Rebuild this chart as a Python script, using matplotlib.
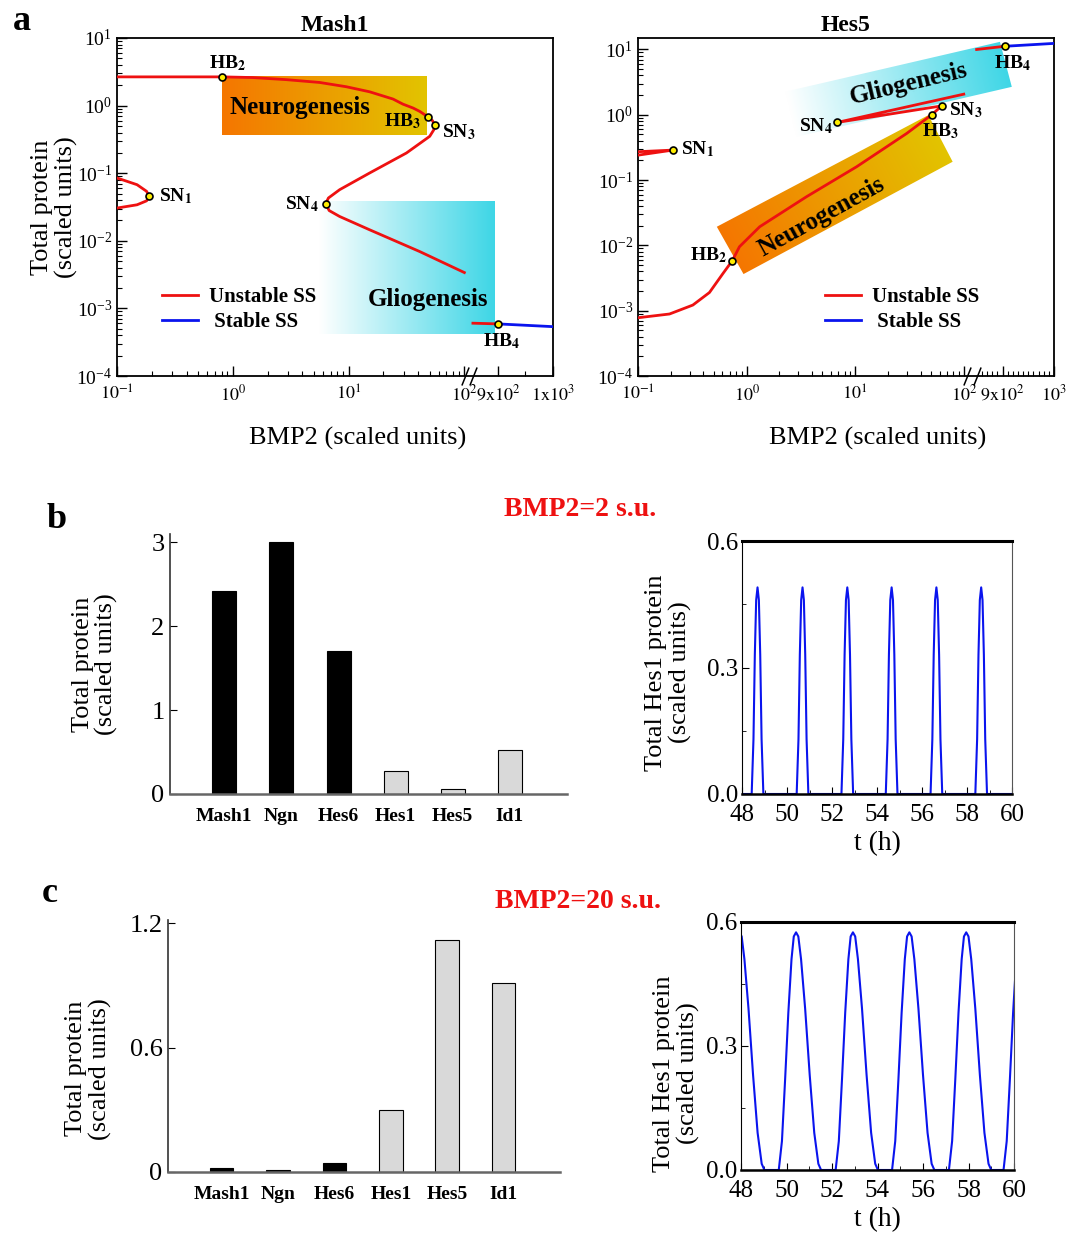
import numpy as np
import matplotlib
matplotlib.use("Agg")
import matplotlib.pyplot as plt
from matplotlib.patches import Polygon
from matplotlib.lines import Line2D
from matplotlib.path import Path
from matplotlib.colors import to_rgb
from matplotlib.ticker import FixedLocator, LogLocator, LogFormatterMathtext, NullFormatter

plt.rcParams['font.family'] = ['Liberation Serif', 'DejaVu Serif']
plt.rcParams['mathtext.fontset'] = 'stix'

# ---- panel a: bifurcation branches (BMP2, total protein) ----
mash1_x = [0.1, 0.3, 0.81, 1.49, 2.9, 5.62, 9.57, 15.2, 24.2, 29.5, 36.1, 41.2, 48.5, 53.0,
           55.5, 54.5, 50.2, 31.6, 15.2, 8.37, 6.7, 6.34, 6.8, 8.37, 15.2, 41.1, 100]
mash1_y = [2.66, 2.66, 2.66, 2.6, 2.42, 2.2, 1.9, 1.6, 1.25, 1.05, 0.92, 0.82, 0.68, 0.6,
           0.51, 0.44, 0.351, 0.199, 0.1007, 0.057, 0.043, 0.0353, 0.028, 0.0229, 0.01455,
           0.00694, 0.00339]
mash1_sn1_x = [0.1, 0.149, 0.18, 0.19, 0.18, 0.149, 0.1]
mash1_sn1_y = [0.085, 0.0676, 0.054, 0.0453, 0.039, 0.0341, 0.0305]
mash1_red_hi_x = [855, 900]
mash1_red_hi_y = [6.04e-4, 5.9e-4]
mash1_stable_x = [900, 1000]
mash1_stable_y = [5.9e-4, 5.37e-4]
mash1_pt_names = ['HB2', 'HB3', 'SN3', 'SN1', 'SN4', 'HB4']
mash1_pt_x = [0.81, 48.5, 55.5, 0.19, 6.34, 900]
mash1_pt_y = [2.66, 0.68, 0.51, 0.0453, 0.0353, 5.9e-4]
mash1_neuro_box = [(0.81, 0.372), (0.81, 2.78), (47.7, 2.78), (47.7, 0.372)]
mash1_glio_box = [(5.6, 4.14e-4), (5.6, 0.039), (895, 0.039), (895, 4.14e-4)]

hes5_x = [0.1, 0.195, 0.32, 0.455, 0.605, 0.738, 0.86, 1.32, 3.56, 10.3, 29.8, 51, 62.7, 6.82, 100]
hes5_y = [7.8e-4, 8.9e-4, 1.22e-3, 1.9e-3, 3.7e-3, 5.82e-3, 9.55e-3, 0.0193, 0.0556, 0.16,
          0.518, 1.01, 1.37, 0.764, 2.07]
hes5_sn1_x = [0.1, 0.209, 0.1]
hes5_sn1_y = [0.272, 0.288, 0.241]
hes5_red_hi_x = [840, 904]
hes5_red_hi_y = [10.0, 11.2]
hes5_stable_x = [904, 1000]
hes5_stable_y = [11.2, 12.4]
hes5_pt_names = ['SN1', 'HB2', 'SN4', 'HB3', 'SN3', 'HB4']
hes5_pt_x = [0.209, 0.738, 6.82, 51, 62.7, 904]
hes5_pt_y = [0.288, 5.82e-3, 0.764, 1.01, 1.37, 11.2]
hes5_neuro_box = [(0.937, 0.00364), (0.532, 0.0193), (47.2, 0.989), (79, 0.191)]
hes5_glio_box = [(2.24, 2.25), (2.87, 0.46), (918, 2.68), (895, 13.1)]

x_major = [0.1, 1, 10, 100, 900, 1000]
mash1_xlabels = [r'$10^{-1}$', r'$10^{0}$', r'$10^{1}$', r'$10^{2}$',
                 r'$9\mathrm{x}10^{2}$', r'$1\mathrm{x}10^{3}$']
hes5_xlabels = [r'$10^{-1}$', r'$10^{0}$', r'$10^{1}$', r'$10^{2}$',
                r'$9\mathrm{x}10^{2}$', r'$10^{3}$']

# ---- panels b, c: bar charts ----
genes = ['Mash1', 'Ngn', 'Hes6', 'Hes1', 'Hes5', 'Id1']
bmp2_low = [2.42, 3.0, 1.70, 0.27, 0.056, 0.53]
bmp2_high = [0.019, 0.008, 0.043, 0.299, 1.118, 0.911]
bar_colors = ['black', 'black', 'black', '#d9d9d9', '#d9d9d9', '#d9d9d9']

# ---- panels b, c: Hes1 time courses (pulse shapes) ----
b_peaks = [48.69, 50.69, 52.68, 54.65, 56.64, 58.63]
b_pulse_dt = [-0.26, -0.18, -0.12, -0.06, 0.0, 0.06, 0.12, 0.18, 0.26]
b_pulse_y = [0.0, 0.13, 0.33, 0.46, 0.49, 0.46, 0.33, 0.13, 0.0]
c_peaks = [47.93, 50.42, 52.92, 55.40, 57.90, 60.30]
c_cycle_dt = [-0.76, -0.62, -0.48, -0.34, -0.2, -0.1, 0.0, 0.1, 0.22, 0.4, 0.6, 0.8, 0.98, 1.1]
c_cycle_y = [0.0, 0.07, 0.22, 0.38, 0.51, 0.565, 0.575, 0.565, 0.51, 0.39, 0.23, 0.09, 0.015, 0.0]

RED = '#ee1111'
BLUE = '#0a14ee'
ORANGE = '#f57600'
GOLD = '#e2c400'
CYAN = '#3ed6e6'

W, H = 1077, 1234
fig = plt.figure(figsize=(W / 100, H / 100), dpi=100)


def axes_px(l, t, r, b):
    return fig.add_axes([l / W, 1 - b / H, (r - l) / W, (b - t) / H])


def bmp_scale(b, s):
    # log axis up to 100, squeezed gap 100..850, linear piece from 850 on
    def fwd(x):
        x = np.asarray(x, dtype=float)
        lg = np.log10(np.clip(x, 1e-12, None))
        return np.where(x <= 100, lg, np.where(x <= 850, 2 + (x - 100) / 750 * (b - 2),
                                               b + (x - 850) * s))

    def inv(u):
        u = np.asarray(u, dtype=float)
        lo = 10 ** np.clip(u, -12, 2)
        return np.where(u <= 2, lo, np.where(u <= b, 100 + (u - 2) / (b - 2) * 750,
                                             850 + (u - b) / s))
    return fwd, inv


def gradient_fill(ax, verts, c0, c1, n=300):
    # verts: first two corners = start edge, last two = end edge
    disp = ax.transData.transform(np.array(verts, dtype=float))
    p0 = (disp[0] + disp[1]) / 2
    p1 = (disp[2] + disp[3]) / 2
    d = p1 - p0
    x0, y0 = disp.min(axis=0) - 2
    x1, y1 = disp.max(axis=0) + 2
    X, Y = np.meshgrid(np.linspace(x0, x1, n), np.linspace(y0, y1, n))
    t = np.clip(((X - p0[0]) * d[0] + (Y - p0[1]) * d[1]) / (d @ d), 0, 1)[..., None]
    img = np.array(to_rgb(c0)) * (1 - t) + np.array(to_rgb(c1)) * t
    inv = ax.transAxes.inverted()
    (a0, b0), (a1, b1) = inv.transform([(x0, y0), (x1, y1)])
    im = ax.imshow(img, extent=[a0, a1, b0, b1], origin='lower', transform=ax.transAxes,
                   aspect='auto', interpolation='bilinear', zorder=0)
    poly = Polygon(verts, closed=True, facecolor='none', edgecolor='none', transform=ax.transData)
    ax.add_patch(poly)
    im.set_clip_path(poly)


def sub_label(name):
    return name[:-1] + r'$_{\mathbf{' + name[-1] + '}}$'


def bif_axes(ax, b, s, ylim, xlabels, minor_hi, title):
    fwd, inv = bmp_scale(b, s)
    ax.set_xscale('function', functions=(fwd, inv))
    ax.set_yscale('log')
    ax.set_xlim(0.1, 1000)
    ax.set_ylim(*ylim)
    ax.set_autoscale_on(False)
    minors = [m * 10.0 ** e for e in (-1, 0, 1) for m in range(2, 10)] + minor_hi
    ax.xaxis.set_major_locator(FixedLocator(x_major))
    ax.xaxis.set_minor_locator(FixedLocator(minors))
    ax.set_xticklabels(xlabels)
    ax.xaxis.set_minor_formatter(NullFormatter())
    ax.yaxis.set_major_locator(LogLocator(base=10, numticks=10))
    ax.yaxis.set_minor_locator(LogLocator(base=10, subs=np.arange(2, 10), numticks=20))
    ax.yaxis.set_major_formatter(LogFormatterMathtext())
    ax.yaxis.set_minor_formatter(NullFormatter())
    ax.tick_params(which='both', direction='in', labelsize=14, top=False, right=False)
    ax.tick_params(which='major', length=7, width=1)
    ax.tick_params(axis='x', which='major', pad=6, labelsize=13)
    ax.tick_params(which='minor', length=3.5, width=0.8)
    for sp in ax.spines.values():
        sp.set_linewidth(1.3)
    ax.set_title(title, fontsize=17, fontweight='bold', pad=5)
    ax.set_xlabel('BMP2 (scaled units)', fontsize=19)


def break_marks(ax, xs):
    mk = Path([(-0.4, -1), (0.4, 1)], [Path.MOVETO, Path.LINETO])
    ax.plot(xs, [0, 0], transform=ax.get_xaxis_transform(), ls='none', marker=mk,
            ms=13, mew=1.1, color='black', clip_on=False, zorder=6)


def points(ax, names, xs, ys, offsets):
    ax.plot(xs, ys, 'o', ms=5, mfc='#ffee00', mec='black', mew=1.2, zorder=5)
    for n, x, y in zip(names, xs, ys):
        dx, dy, ha, va = offsets[n]
        ax.annotate(sub_label(n), (x, y), xytext=(dx, dy), textcoords='offset points',
                    ha=ha, va=va, fontsize=14, fontweight='bold', zorder=6)


def bif_legend(ax, anchor):
    hs = [Line2D([], [], color=RED, lw=2), Line2D([], [], color=BLUE, lw=2)]
    ax.legend(hs, ['Unstable SS', ' Stable SS'], loc='lower left', bbox_to_anchor=anchor,
              frameon=False, prop=dict(weight='bold', size=15), handlelength=1.7,
              handletextpad=0.55, labelspacing=0.25, borderaxespad=0)


# ---- Mash1 ----
ax = axes_px(117, 38, 553, 376)
bif_axes(ax, 2.05, 0.00477, (1e-4, 10), mash1_xlabels, [950], 'Mash1')
gradient_fill(ax, mash1_neuro_box, ORANGE, GOLD)
gradient_fill(ax, mash1_glio_box, 'white', CYAN)
ax.plot(mash1_x, mash1_y, color=RED, lw=2, zorder=3)
ax.plot(mash1_sn1_x, mash1_sn1_y, color=RED, lw=2, zorder=3)
ax.plot(mash1_red_hi_x, mash1_red_hi_y, color=RED, lw=2, zorder=3)
ax.plot(mash1_stable_x, mash1_stable_y, color=BLUE, lw=2, zorder=3)
points(ax, mash1_pt_names, mash1_pt_x, mash1_pt_y,
       {'HB2': (4, 3, 'center', 'bottom'), 'HB3': (-5, -3, 'right', 'center'),
        'SN3': (5, -5, 'left', 'center'), 'SN1': (7, 0, 'left', 'center'),
        'SN4': (-5, 0, 'right', 'center'), 'HB4': (3, -5, 'center', 'top')})
ax.text(3.78, 0.924, 'Neurogenesis', ha='center', va='center', fontsize=18, fontweight='bold', zorder=4)
ax.text(48.9, 1.34e-3, 'Gliogenesis', ha='center', va='center', fontsize=18, fontweight='bold', zorder=4)
ax.set_ylabel('Total protein\n(scaled units)', fontsize=19, linespacing=1.1)
ax.yaxis.set_label_coords(-0.09, 0.5)
ax.xaxis.set_label_coords(0.553, -0.15)
bif_legend(ax, (0.085, 0.105))
break_marks(ax, [200, 855])

# ---- Hes5 ----
ax = axes_px(638, 38, 1054, 376)
bif_axes(ax, 2.12, 0.00474, (1e-4, 15), hes5_xlabels, list(range(860, 1000, 10)), 'Hes5')
gradient_fill(ax, hes5_neuro_box, ORANGE, GOLD)
gradient_fill(ax, hes5_glio_box, 'white', CYAN)
ax.plot(hes5_x, hes5_y, color=RED, lw=2, zorder=3)
ax.plot(hes5_sn1_x, hes5_sn1_y, color=RED, lw=2, zorder=3)
ax.plot(hes5_red_hi_x, hes5_red_hi_y, color=RED, lw=2, zorder=3)
ax.plot(hes5_stable_x, hes5_stable_y, color=BLUE, lw=2, zorder=3)
points(ax, hes5_pt_names, hes5_pt_x, hes5_pt_y,
       {'SN1': (6, 1, 'left', 'center'), 'HB2': (-4, 4, 'right', 'center'),
        'SN4': (-3, -3, 'right', 'center'), 'HB3': (6, -5, 'center', 'top'),
        'SN3': (5, -3, 'left', 'center'), 'HB4': (6, -5, 'center', 'top')})
ax.text(4.89, 0.0275, 'Neurogenesis', ha='center', va='center', rotation=29,
        fontsize=18, fontweight='bold', zorder=4)
ax.text(30.8, 3.02, 'Gliogenesis', ha='center', va='center', rotation=13.5,
        fontsize=18, fontweight='bold', zorder=4)
ax.xaxis.set_label_coords(0.576, -0.15)
bif_legend(ax, (0.43, 0.105))
break_marks(ax, [300, 840])


# ---- bar charts ----
def bar_axes(ax, vals, ylim, yticks, yticklabels, ylab_xy):
    pos = np.arange(1, len(genes) + 1)
    ax.bar(pos, vals, width=0.42, color=bar_colors, edgecolor='black', linewidth=0.8)
    ax.set_xlim(0.05, 7.0)
    ax.set_ylim(*ylim)
    ax.set_xticks(pos)
    ax.set_xticklabels(genes, fontsize=14, fontweight='bold')
    ax.set_yticks(yticks)
    ax.set_yticklabels(yticklabels, fontsize=19)
    ax.tick_params(axis='x', length=0, pad=10)
    ax.tick_params(axis='y', direction='in', length=5, pad=4)
    for k in ('top', 'right'):
        ax.spines[k].set_visible(False)
    ax.spines['left'].set_color('#333333')
    ax.spines['bottom'].set_color('#666666')
    ax.spines['left'].set_linewidth(1.2)
    ax.spines['bottom'].set_linewidth(1.8)
    ax.set_ylabel('Total protein\n(scaled units)', fontsize=19, linespacing=1.1)
    ax.yaxis.set_label_coords(*ylab_xy)


def ts_axes(ax, t, y, ylab_xy):
    ax.plot(t, y, color=BLUE, lw=1.5)
    ax.set_xlim(48, 60)
    ax.set_ylim(0, 0.6)
    ax.set_xticks(np.arange(48, 61, 2))
    ax.set_xticks(np.arange(49, 60, 2), minor=True)
    ax.set_yticks([0.0, 0.3, 0.6])
    ax.set_yticks([0.15, 0.45], minor=True)
    ax.set_yticklabels(['0.0', '0.3', '0.6'])
    ax.tick_params(which='both', direction='in', labelsize=18, top=False, right=False)
    ax.tick_params(which='major', length=5, pad=3)
    ax.tick_params(axis='x', which='major', pad=7)
    ax.tick_params(which='minor', length=3)
    ax.spines['top'].set_linewidth(2.2)
    ax.spines['right'].set_color('#555555')
    ax.spines['right'].set_linewidth(0.8)
    ax.spines['bottom'].set_linewidth(1.8)
    ax.set_xlabel('t (h)', fontsize=20, labelpad=4)
    ax.set_ylabel('Total Hes1 protein\n(scaled units)', fontsize=19, linespacing=1.1)
    ax.yaxis.set_label_coords(*ylab_xy)


bt = [48.0] + [p + d for p in b_peaks for d in b_pulse_dt] + [60.0]
by = [0.0] + list(b_pulse_y) * len(b_peaks) + [0.0]
ct = [p + d for p in c_peaks for d in c_cycle_dt]
cy = list(c_cycle_y) * len(c_peaks)

ax = axes_px(170, 534, 567, 794)
bar_axes(ax, bmp2_low, (0, 3.1), [0, 1, 2, 3], ['0', '1', '2', '3'], (-0.13, 0.5))
ax = axes_px(742, 541, 1012, 794)
ts_axes(ax, bt, by, (-0.185, 0.48))

ax = axes_px(168, 920, 560, 1172)
bar_axes(ax, bmp2_high, (0, 1.215), [0, 0.6, 1.2], ['0', '0.6', '1.2'], (-0.143, 0.41))
ax = axes_px(741, 922, 1014, 1170)
ts_axes(ax, ct, cy, (-0.15, 0.39))

fig.text(22 / W, 1 - 22 / H, 'a', fontsize=26, fontweight='bold', ha='center', va='center')
fig.text(57 / W, 1 - 520 / H, 'b', fontsize=26, fontweight='bold', ha='center', va='center')
fig.text(50 / W, 1 - 893 / H, 'c', fontsize=26, fontweight='bold', ha='center', va='center')
fig.text(580 / W, 1 - 510 / H, 'BMP2=2 s.u.', fontsize=20, fontweight='bold', color='#ee1111',
         ha='center', va='center')
fig.text(578 / W, 1 - 901 / H, 'BMP2=20 s.u.', fontsize=20, fontweight='bold', color='#ee1111',
         ha='center', va='center')

fig.savefig('out.png', dpi=100)
